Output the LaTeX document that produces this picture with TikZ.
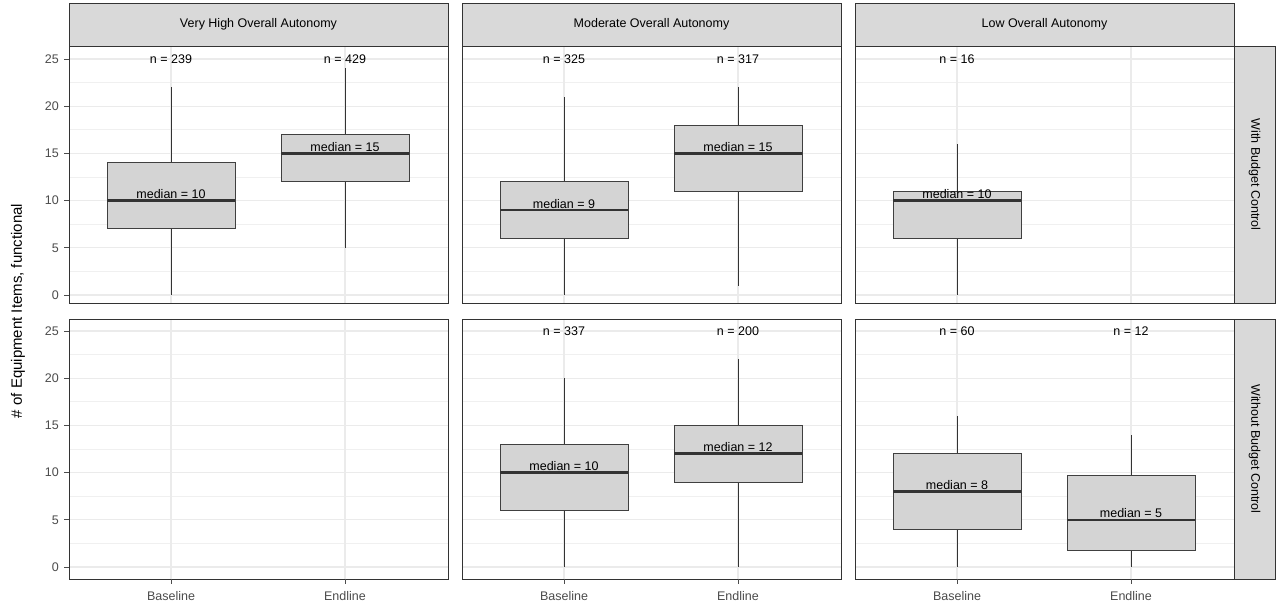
\documentclass[tikz,border=0pt]{standalone}
\usepackage{fontspec}
\setmainfont{Liberation Sans}
\begin{document}
\begin{tikzpicture}[x=1pt,y=-1pt,
  grid/.style={draw=black!8,line width=1.1pt},
  mgrid/.style={draw=black!6,line width=0.6pt},
  frame/.style={draw=black!80,line width=0.9pt},
  strip/.style={draw=black!80,fill=black!15,line width=0.9pt},
  boxs/.style={draw=black!75,fill=black!17,line width=1pt},
  med/.style={draw=black!80,line width=2.6pt},
  lab/.style={font=\fontsize{12.5}{14}\selectfont,text=black},
  tick/.style={font=\fontsize{12.5}{14}\selectfont,text=black!70}]
\useasboundingbox (0,0) rectangle (1280,609);
\fill[white] (0,0) rectangle (1280,609);
\newcommand\bxp[9]{% name,x,y0,lo,q1,med,q3,hi,label
  \draw[black!80,line width=0.9pt] (#2,{#3-#4*9.44}) -- (#2,{#3-#8*9.44});
  \draw[boxs] ({#2-64},{#3-#5*9.44}) rectangle ({#2+64},{#3-#7*9.44});
  \draw[med] ({#2-64},{#3-#6*9.44}) -- ({#2+64},{#3-#6*9.44});
  \node[lab,anchor=base,inner sep=0pt] (#1) at (#2,{#3-#6*9.44-2}) {median = #9};}
\newcommand\nlab[4]{\node[lab] (#1) at (#2,{#3-25*9.44}) {n = #4};}
\foreach \px in {69,462,855}{
 \foreach \py/\yz/\yb in {46/295/303,319/567/579}{
  \foreach \v in {2.5,7.5,12.5,17.5,22.5}{\draw[mgrid] (\px,{\yz-\v*9.44}) -- (\px+379,{\yz-\v*9.44});}
  \foreach \v in {0,5,...,25}{\draw[grid] (\px,{\yz-\v*9.44}) -- (\px+379,{\yz-\v*9.44});}
  \draw[grid] (\px+102,\py) -- (\px+102,\yb);
  \draw[grid] (\px+276,\py) -- (\px+276,\yb);
 }}
% boxes
\bxp{m1}{171}{295}{0}{7}{10}{14}{22}{10}
\bxp{m2}{345}{295}{5}{12}{15}{17}{24}{15}
\bxp{m3}{564}{295}{0}{6}{9}{12}{21}{9}
\bxp{m4}{738}{295}{1}{11}{15}{18}{22}{15}
\bxp{m5}{957}{295}{0}{6}{10}{11}{16}{10}
\bxp{m6}{564}{567}{0}{6}{10}{13}{20}{10}
\bxp{m7}{738}{567}{0}{9}{12}{15}{22}{12}
\bxp{m8}{957}{567}{0}{4}{8}{12}{16}{8}
\bxp{m9}{1131}{567}{0}{1.8}{5}{9.7}{14}{5}
\nlab{n1}{171}{295}{239}\nlab{n2}{345}{295}{429}
\nlab{n3}{564}{295}{325}\nlab{n4}{738}{295}{317}
\nlab{n5}{957}{295}{16}
\nlab{n6}{564}{567}{337}\nlab{n7}{738}{567}{200}
\nlab{n8}{957}{567}{60}\nlab{n9}{1131}{567}{12}
% frames and strips
\foreach \px/\t in {69/Very High Overall Autonomy,462/Moderate Overall Autonomy,855/Low Overall Autonomy}{
  \draw[frame] (\px,46) rectangle (\px+379,303);
  \draw[frame] (\px,319) rectangle (\px+379,579);
  \draw[strip] (\px,3) rectangle (\px+379,46);
  \node[lab] at (\px+189.5,24.5) {\t};
  \foreach \xx/\tt in {102/Baseline,276/Endline}{
    \node[tick,anchor=north] at (\px+\xx,588) {\tt};
    \draw[black!70,line width=0.8pt] (\px+\xx,579) -- (\px+\xx,584);}
}
\draw[strip] (1234,46) rectangle (1275,303);
\node[lab,rotate=-90] at (1254.5,174.5) {With Budget Control};
\draw[strip] (1234,319) rectangle (1275,579);
\node[lab,rotate=-90] at (1254.5,449) {Without Budget Control};
\foreach \yz in {295,567}{
 \foreach \v in {0,5,...,25}{
  \draw[black!70,line width=0.8pt] (64,{\yz-\v*9.44}) -- (69,{\yz-\v*9.44});
  \node[tick,anchor=east,inner sep=2pt] at (61,{\yz-\v*9.44}) {\v};}}
\node[font=\fontsize{15}{17}\selectfont,rotate=90] (yt) at (18,311) {\# of Equipment Items, functional};
\end{tikzpicture}
\end{document}
